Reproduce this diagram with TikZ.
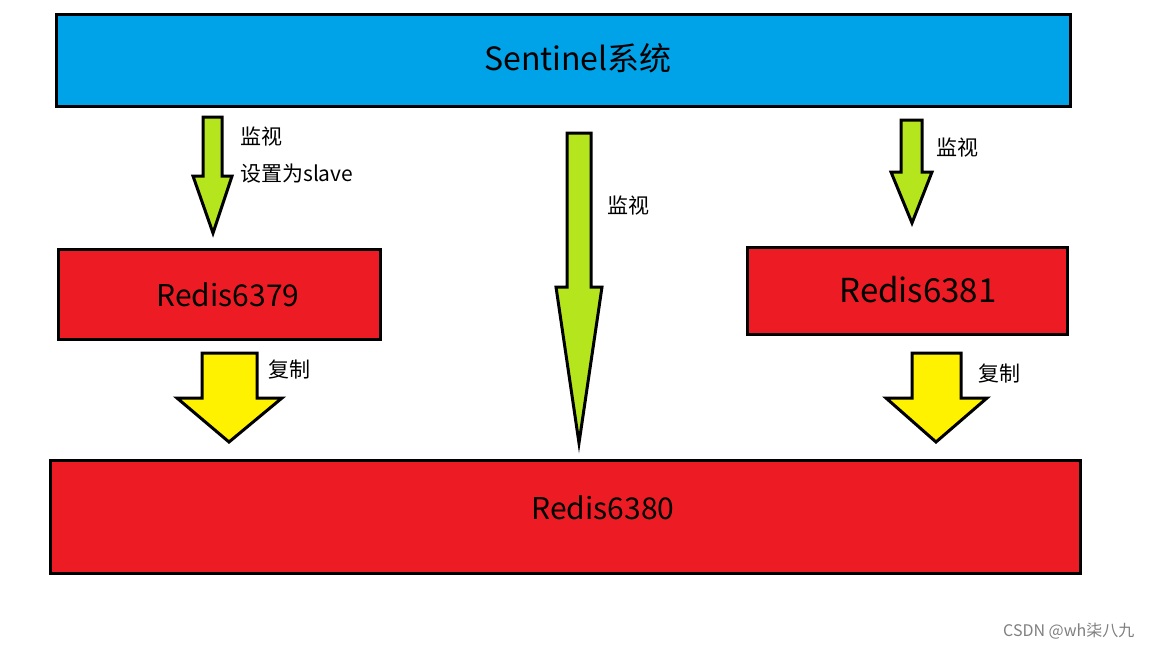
\documentclass[tikz,border=0pt]{standalone}
\usepackage{fontspec}
\setmainfont{Noto Sans CJK SC}
\definecolor{sblue}{HTML}{00A2E8}
\definecolor{rred}{HTML}{ED1C24}
\definecolor{agreen}{HTML}{B5E61D}
\definecolor{ayellow}{HTML}{FFF200}
\tikzset{
  box/.style={draw=black, line width=3pt, inner sep=0pt, anchor=north west},
  boxtext/.style={font=\fontsize{30}{34}\selectfont},
  blockarrow/.style={draw=black, line width=3pt, line join=miter},
  lbl/.style={font=\fontsize{21}{25}\selectfont, anchor=west, inner sep=0pt},
}
\begin{document}
\begin{tikzpicture}[x=1pt,y=-1pt]
\useasboundingbox (0,0) rectangle (1152,648);
\fill[white] (0,0) rectangle (1152,648);
% boxes
\draw[box, fill=sblue] (56,14) rectangle (1070,106);
\node[boxtext, font=\fontsize{32}{36}\selectfont] (sentinel) at (578,58) {Sentinel系统};
\draw[box, fill=rred] (58,249) rectangle (380,339);
\node[boxtext] (r6379) at (228,295) {Redis6379};
\draw[box, fill=rred] (747,247) rectangle (1067,334);
\node[boxtext, font=\fontsize{33}{37}\selectfont] (r6381) at (918,290) {Redis6381};
\draw[box, fill=rred] (50,460) rectangle (1080,573);
\node[boxtext] (r6380) at (603,508) {Redis6380};
% green arrows
\draw[blockarrow, fill=agreen] (203,117) -- (222,117) -- (222,176) -- (232,176) -- (213,233) -- (193,176) -- (203,176) -- cycle;
\draw[blockarrow, fill=agreen] (567,133) -- (591,133) -- (591,287) -- (602,287) -- (579,443) -- (556,287) -- (567,287) -- cycle;
\draw[blockarrow, fill=agreen] (901,120) -- (922,120) -- (922,172) -- (932,172) -- (912,223) -- (891,172) -- (901,172) -- cycle;
% yellow arrows
\draw[blockarrow, fill=ayellow] (202,353) -- (257,353) -- (257,398) -- (282,398) -- (229,442) -- (177,398) -- (202,398) -- cycle;
\draw[blockarrow, fill=ayellow] (912,353) -- (961,353) -- (961,398) -- (987,398) -- (936,442) -- (886,398) -- (912,398) -- cycle;
% labels
\node[lbl] (l1) at (240,137) {监视};
\node[lbl] (l2) at (240,174) {设置为slave};
\node[lbl] (l3) at (607,206) {监视};
\node[lbl] (l4) at (936,148) {监视};
\node[lbl] (l5) at (268,370) {复制};
\node[lbl] (l6) at (978,374) {复制};
\node[anchor=west, inner sep=0pt, text=black!50, font=\fontsize{16}{18}\selectfont] (wm) at (1003,631) {CSDN @wh柒八九};
\end{tikzpicture}
\end{document}
